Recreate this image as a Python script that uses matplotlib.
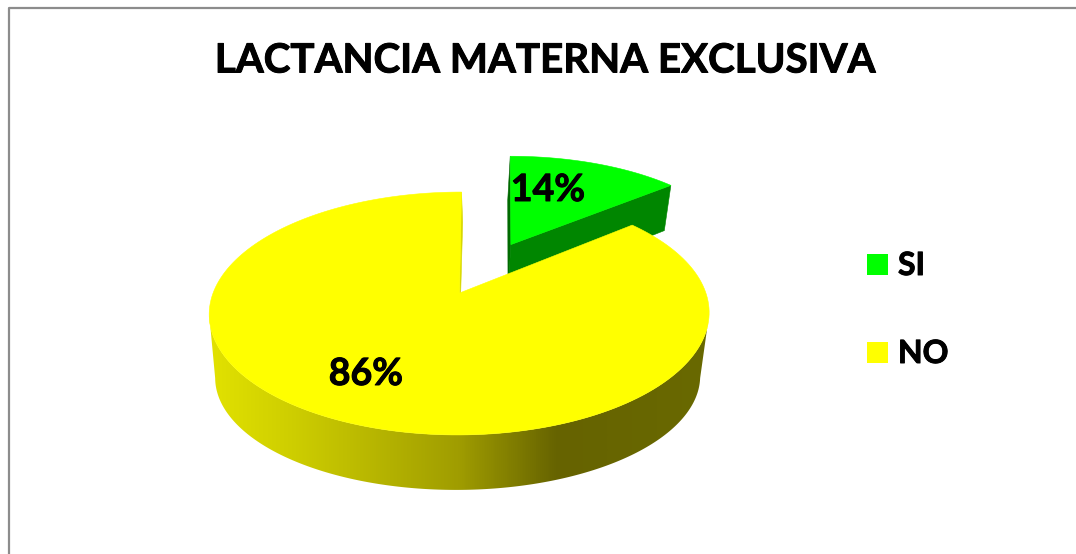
import numpy as np
import matplotlib
matplotlib.use("Agg")
import matplotlib.pyplot as plt
import matplotlib.patheffects as pe
from matplotlib.patches import Polygon, Rectangle
from matplotlib.colors import LinearSegmentedColormap

# ------------------------------------------------------------
# Data
# ------------------------------------------------------------
title = "LACTANCIA MATERNA EXCLUSIVA"
categories = ["SI", "NO"]
values = [14, 86]

GREEN = "#00ff00"
GREEN_DARK = "#008600"
YELLOW = "#ffff00"
FONT = "Lato"

# ------------------------------------------------------------
# Perspective helper: unit circle coords -> pixel coords
# ------------------------------------------------------------
CX, CY = 459.5, 293
KX, KY = 246.4, 118.0
PERSP = 0.1687
SHRINK = 0.03


def project(x, y, low=None, skew=2.0):
    # low = (vertical scale, drop) gives the base of the disc
    if low is None:
        d = 1 + PERSP * y
        return CX + skew * y + KX * x / d, CY - KY * y / d
    d = 1 + PERSP * y + SHRINK
    return CX - 1.5 + skew * y + KX * x / d, CY - (low[0] * y - low[1]) / d


def rim(a0, a1, shift=(0, 0), low=None, skew=2.0, n=200):
    # angles are clockwise from north, in degrees
    t = np.radians(np.linspace(a0, a1, n))
    px, py = project(np.sin(t) + shift[0], np.cos(t) + shift[1], low, skew)
    return np.column_stack([px, py])


def poly(ax, pts, color, z):
    ax.add_patch(Polygon(pts, closed=True, fc=color, ec=color, lw=0.4, zorder=z))


fig = plt.figure(figsize=(10.76, 5.54), dpi=100)
ax = fig.add_axes([0, 0, 1, 1])
ax.set_xlim(0, 1076)
ax.set_ylim(554, 0)
ax.axis("off")

# chart frame runs off the right and bottom edges
ax.plot([9, 9, 1076], [554, 8, 8], color="#8c8c8c", lw=1.6, zorder=1)

total = sum(values)
si_angle = 360 * values[0] / total

# ------------------------------------------------------------
# SI slice, pulled out along its middle direction
# ------------------------------------------------------------
SI_BASE = (118.0, 51.6)
SI_SKEW = 6.0
mid = np.radians(si_angle / 2)
shift = (0.487 * np.sin(mid) + 0.005, 0.487 * np.cos(mid))

apex_top = np.array(project(shift[0], shift[1], skew=SI_SKEW))
apex_low = np.array(project(shift[0], shift[1], SI_BASE, SI_SKEW))
si_top = rim(0, si_angle, shift, skew=SI_SKEW)
si_low = rim(0, si_angle, shift, SI_BASE, SI_SKEW)

# cut faces first, then the top of the slice
poly(ax, [apex_top, si_top[0], si_low[0], apex_low], "#006a00", 2)
poly(ax, [apex_top, si_top[-1], si_low[-1], apex_low], GREEN_DARK, 3)
poly(ax, np.vstack([apex_top, si_top]), GREEN, 4)

# ------------------------------------------------------------
# NO slice: shaded wall, cut face and top
# ------------------------------------------------------------
NO_BASE = (102.2, 67.4)
wall_top = rim(100, 260)
wall_low = rim(100, 260, low=NO_BASE)
wall = Polygon(np.vstack([wall_top, wall_low[::-1]]), closed=True, fc="none", ec="none", zorder=5)
ax.add_patch(wall)

shade = LinearSegmentedColormap.from_list(
    "wall",
    [(0.0, "#e2e200"), (0.16, "#cfcf00"), (0.5, "#a09d00"), (0.70, "#666300"), (1.0, "#696900")],
)
grad = np.linspace(0, 1, 512).reshape(1, -1)
img = ax.imshow(grad, cmap=shade, extent=(208, 708, 554, 0), aspect="auto", zorder=5)
img.set_clip_path(wall)
ax.set_xlim(0, 1076)
ax.set_ylim(554, 0)

apex_no = np.array(project(0, 0))
no_top = rim(si_angle, 360)
# thin cut face along the notch
poly(ax, [apex_no, no_top[-1], (no_top[-1][0] + 1.2, no_top[-1][1] + 30), (apex_no[0] + 1.2, apex_no[1])],
     "#d8d800", 6)
poly(ax, np.vstack([apex_no, no_top]), YELLOW, 7)

# ------------------------------------------------------------
# Text
# ------------------------------------------------------------
bolder = [pe.withStroke(linewidth=0.7, foreground="black")]

ax.text(545, 61, title, ha="center", va="center", fontsize=29, fontweight="bold",
        family=FONT, color="black", zorder=10, path_effects=bolder)

ax.text(548, 190, f"{values[0]}%", ha="center", va="center", fontsize=27, fontweight="bold",
        family=FONT, color="black", zorder=10, path_effects=bolder)
ax.text(366, 374, f"{values[1]}%", ha="center", va="center", fontsize=27, fontweight="bold",
        family=FONT, color="black", zorder=10, path_effects=bolder)

# legend
for name, color, ly in zip(categories, [GREEN, YELLOW], [264.5, 352.5]):
    ax.add_patch(Rectangle((867, ly - 10.5), 21, 21, fc=color, ec="none", zorder=10))
    ax.text(898, ly + 1, name, ha="left", va="center", fontsize=23, fontweight="bold",
            family=FONT, color="black", zorder=10, path_effects=bolder)

fig.savefig("out.png", dpi=100, facecolor="white")
